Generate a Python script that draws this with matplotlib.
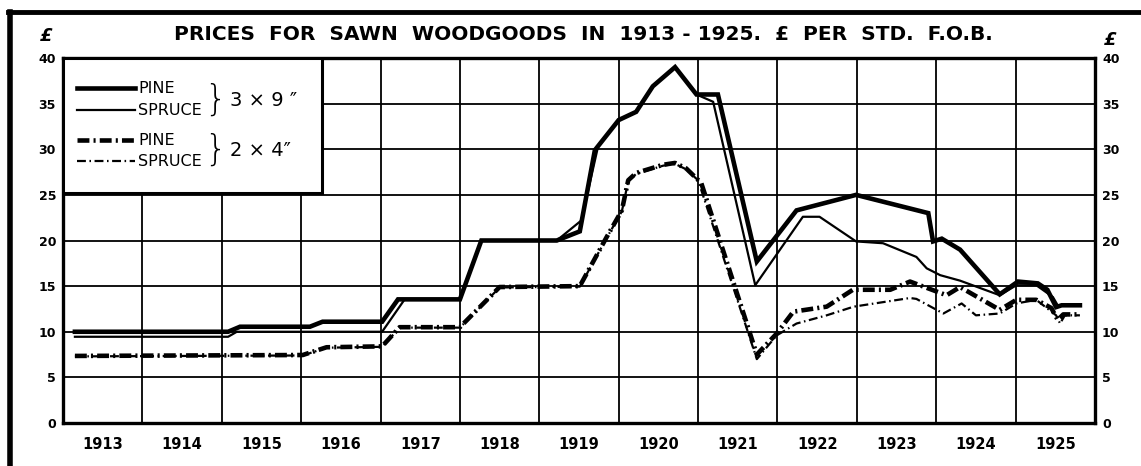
import matplotlib
matplotlib.use("Agg")
import matplotlib.pyplot as plt
from matplotlib.lines import Line2D
from matplotlib.patches import Rectangle

# ---------------- data ----------------
years = list(range(1913, 1926))
year_labels = [str(y) for y in years]
yticks = list(range(0, 45, 5))

pine39_x = [1913.15, 1915.08, 1915.23, 1916.11, 1916.27, 1917.02, 1917.22, 1918.0, 1918.27,
            1919.22, 1919.51, 1919.70, 1920.0, 1920.22, 1920.43, 1920.71, 1920.98, 1921.25,
            1921.74, 1922.24, 1922.99, 1923.90, 1923.96, 1924.07, 1924.30, 1924.80, 1925.03,
            1925.28, 1925.40, 1925.51, 1925.58, 1925.81]
pine39_y = [10.0, 10.0, 10.55, 10.55, 11.1, 11.1, 13.55, 13.55, 20.0,
            20.0, 21.0, 29.9, 33.2, 34.1, 36.9, 39.0, 36.0, 36.0,
            17.7, 23.3, 25.0, 23.0, 19.9, 20.2, 19.0, 14.1, 15.5,
            15.3, 14.6, 12.7, 12.9, 12.9]

spruce39_x = [1913.15, 1915.08, 1915.19, 1917.02, 1917.30, 1918.0, 1918.27, 1919.22, 1919.53,
              1919.74, 1920.0, 1920.22, 1920.43, 1920.71, 1920.98, 1921.19, 1921.72, 1922.32,
              1922.53, 1922.99, 1923.33, 1923.75, 1923.88, 1924.05, 1924.30, 1924.80, 1925.01,
              1925.26, 1925.47, 1925.53, 1925.81]
spruce39_y = [9.45, 9.45, 10.0, 10.0, 13.5, 13.5, 20.0, 20.0, 22.2,
              30.3, 33.2, 34.1, 36.9, 39.0, 36.0, 35.2, 15.1, 22.6,
              22.6, 19.9, 19.7, 18.2, 16.95, 16.2, 15.6, 14.0, 15.1,
              15.1, 13.8, 12.9, 12.9]

pine24_x = [1913.15, 1916.02, 1916.32, 1917.02, 1917.24, 1918.0, 1918.50, 1919.51, 1919.85,
            1920.04, 1920.12, 1920.22, 1920.56, 1920.71, 1920.85, 1921.04, 1921.74, 1921.99,
            1922.20, 1922.62, 1922.95, 1923.42, 1923.67, 1924.13, 1924.30, 1924.80, 1925.01,
            1925.26, 1925.45, 1925.53, 1925.60, 1925.81]
pine24_y = [7.35, 7.45, 8.3, 8.4, 10.5, 10.5, 14.9, 15.0, 20.4,
            23.3, 26.6, 27.4, 28.3, 28.5, 27.9, 26.3, 7.5, 9.8,
            12.2, 12.75, 14.6, 14.6, 15.5, 14.0, 14.9, 12.4, 13.5,
            13.5, 12.6, 11.3, 11.9, 11.9]

spruce24_x = [1913.15, 1916.02, 1916.32, 1917.02, 1917.24, 1918.0, 1918.50, 1919.51, 1919.85,
              1920.04, 1920.12, 1920.22, 1920.56, 1920.71, 1920.85, 1921.0, 1921.74, 1921.99,
              1922.24, 1922.62, 1922.96, 1923.67, 1923.75, 1924.09, 1924.32, 1924.50, 1924.80,
              1925.01, 1925.26, 1925.51, 1925.56, 1925.62, 1925.81]
spruce24_y = [7.3, 7.4, 8.25, 8.35, 10.45, 10.45, 14.85, 14.95, 20.3,
              23.2, 26.5, 27.3, 28.2, 28.4, 27.8, 26.6, 7.0, 9.6,
              10.9, 11.8, 12.75, 13.7, 13.6, 12.0, 13.1, 11.8, 12.0,
              13.1, 13.5, 11.8, 10.9, 11.8, 11.8]

# ---------------- figure ----------------
W, H = 1141, 466
fig = plt.figure(figsize=(W / 100, H / 100), dpi=100)
fig.patch.set_facecolor("white")

L, R, T, B = 63, 1095, 58, 423
ax = fig.add_axes([L / W, 1 - B / H, (R - L) / W, (B - T) / H])
ax.set_xlim(1913, 1926)
ax.set_ylim(0, 40)

thick = 3.3
thin = 1.6
dash_thick = (0, (2.6, 0.9, 0.45, 0.9))
dash_thin = (0, (4.0, 1.6, 0.7, 1.6))
ax.plot(pine39_x, pine39_y, color="black", lw=thick, solid_joinstyle="miter", zorder=5)
ax.plot(spruce39_x, spruce39_y, color="black", lw=thin, zorder=5)
ax.plot(pine24_x, pine24_y, color="black", lw=thick, linestyle=dash_thick, zorder=5)
ax.plot(spruce24_x, spruce24_y, color="black", lw=thin, linestyle=dash_thin, zorder=5)

# grid / ticks
ax.set_xticks(years + [1926])
ax.set_xticklabels([])
ax.set_xticks([y + 0.5 for y in years], minor=True)
ax.set_xticklabels(year_labels, minor=True, fontsize=10.5, fontweight="bold")
ax.tick_params(axis="x", which="both", length=0, pad=10)
ax.set_yticks(yticks)
ax.set_yticklabels([str(v) for v in yticks], fontsize=9, fontweight="bold")
ax.tick_params(axis="y", length=0, labelleft=True, labelright=True, pad=5)
ax.grid(True, which="major", color="black", lw=1.3)
ax.set_axisbelow(True)
for s in ax.spines.values():
    s.set_linewidth(2.4)

# legend box drawn manually
lx1 = (322 - L) / (R - L)
ly0 = (B - 193) / (B - T)
ax.add_patch(Rectangle((0, ly0), lx1, 1 - ly0, transform=ax.transAxes,
                       facecolor="white", edgecolor="black", lw=2.2, zorder=3))


def axx(px):
    return (px - L) / (R - L)


def axy(py):
    return (B - py) / (B - T)


rows = [(88, thick, "-", "PINE"), (110, thin, "-", "SPRUCE"),
        (140, thick, dash_thick, "PINE"),
        (161, thin, dash_thin, "SPRUCE")]
for py, lw_, ls_, txt in rows:
    ax.add_line(Line2D([axx(77), axx(135)], [axy(py), axy(py)], transform=ax.transAxes,
                       color="black", lw=lw_, linestyle=ls_, zorder=4))
    ax.text(axx(138), axy(py), txt, transform=ax.transAxes, fontsize=11.5,
            va="center", ha="left", zorder=4)

for cy, lbl in [(100, "3 × 9 \u2033"), (150, "2 × 4\u2033")]:
    ax.text(axx(215), axy(cy), "}", transform=ax.transAxes, fontsize=25, va="center",
            ha="center", zorder=4, fontweight="light")
    ax.text(axx(230), axy(cy), lbl, transform=ax.transAxes, fontsize=14,
            va="center", ha="left", zorder=4)

# title and pound signs
fig.text(583 / W, 1 - 35 / H, "PRICES  FOR  SAWN  WOODGOODS  IN  1913 - 1925.  £  PER  STD.  F.O.B.",
         ha="center", va="center", fontsize=14.5, fontweight="bold")
fig.text(46 / W, 1 - 36 / H, "£", ha="center", va="center", fontsize=13, fontweight="bold",
         style="italic")
fig.text(1110 / W, 1 - 40 / H, "£", ha="center", va="center", fontsize=13, fontweight="bold",
         style="italic")

# outer frame (top and left edges visible)
fig.add_artist(Line2D([8 / W, 1.0], [1 - 12 / H, 1 - 12 / H], transform=fig.transFigure,
                      color="black", lw=3.5))
fig.add_artist(Line2D([10 / W, 10 / W], [0.0, 1 - 12 / H], transform=fig.transFigure,
                      color="black", lw=4))

fig.savefig("out.png", dpi=100, facecolor="white")
